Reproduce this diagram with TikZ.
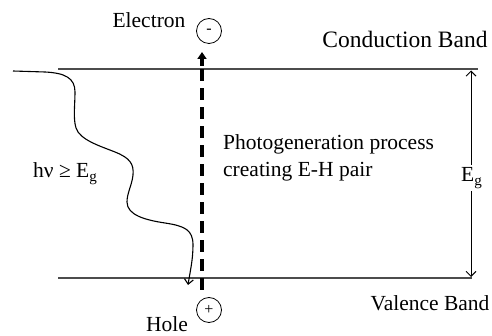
\documentclass[tikz,border=0pt]{standalone}
\usepackage{fontspec}
\setmainfont{Liberation Serif}
\usetikzlibrary{arrows.meta}
\begin{document}
\begin{tikzpicture}[x=1pt,y=-1pt,
  lbl/.style={font=\fontsize{21.5}{27}\selectfont, inner sep=0pt},
  band/.style={draw=black!70, line width=1.3pt},
  carrier/.style={draw, circle, line width=0.8pt, minimum size=25pt, inner sep=0pt, font=\fontsize{16}{16}\selectfont},
  gap/.style={line width=0.9pt, {Straight Barb[length=5pt,width=10pt]}-{Straight Barb[length=5pt,width=10pt]}},
  photon/.style={line width=1.1pt, -{Straight Barb[length=5pt,width=9pt]}},
  transition/.style={line width=3.3pt, dash pattern=on 12pt off 7pt}
]
\useasboundingbox (0,0) rectangle (492,336);

% bands
\coordinate (cbL) at (58,69);
\coordinate (cbR) at (478,69);
\coordinate (vbL) at (58,278);
\coordinate (vbR) at (472,278);
\draw[band] (cbL) -- (cbR);
\draw[band] (vbL) -- (vbR);

% labels
\node[lbl, anchor=base, font=\fontsize{23.5}{27}\selectfont] (cb) at (405,48) {Conduction Band};
\node[lbl, anchor=base] (vb) at (430,310) {Valence Band};
\node[lbl, anchor=base] (el) at (149,28) {Electron};
\node[lbl, anchor=base] (ho) at (167,331) {Hole};
\node[lbl, anchor=base west] (proc) at (223,150) {Photogeneration process};
\node[lbl, anchor=base west] (proc2) at (223,177) {creating E-H pair};
\node[lbl, anchor=base west] (hv) at (33,178) {hν ≥ E\textsubscript{g}};

% carriers
\node[carrier] (elec) at (209,31) {-};
\node[carrier] (hole) at (209,310) {+};

% band gap arrow
\coordinate (gT) at (471,70.5);
\coordinate (gB) at (471,277);
\draw[gap] (gT) -- (gB);
\node[lbl, fill=white, inner sep=3pt, anchor=base west] (eg) at (458,182) {E\textsubscript{g}};

% transition
\coordinate (dbot) at (202,290);
\coordinate (dmid) at (202,62);
\coordinate (dtop) at (202,52);
\draw[transition] (dbot) -- (dmid);
\draw[line width=3.3pt, -{Triangle[length=7pt,width=9pt]}] (202,66) -- (dtop);

% photon
\coordinate (ps) at (13,71);
\coordinate (pe) at (188,285);
\draw[photon] (ps) -- (45,72) .. controls (65,73) and (75,78) .. (75,92)
  .. controls (75,105) and (73,118) .. (76,128)
  .. controls (80,140) and (100,146) .. (115,152)
  .. controls (130,158) and (134,164) .. (133,175)
  .. controls (132,185) and (127,193) .. (127,202)
  .. controls (127,215) and (145,220) .. (165,223)
  .. controls (185,226) and (193,230) .. (193,245)
  .. controls (193,260) and (190,272) .. (pe);
\end{tikzpicture}
\end{document}
